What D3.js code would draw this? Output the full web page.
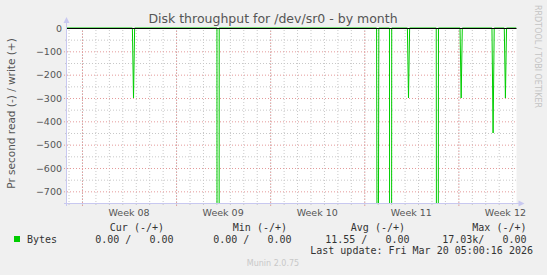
<!DOCTYPE html>
<html>
<head>
<meta charset="utf-8">
<script src="https://cdn.jsdelivr.net/npm/d3@7"></script>
<style>
  body { margin: 0; background: #f0f0f0; }
  svg { display: block; }
  text { font-family: "DejaVu Sans", sans-serif; }
  .mono { font-family: "DejaVu Sans Mono", monospace; white-space: pre; }
</style>
</head>
<body>
<div id="chart"></div>
<script>
// read spikes (bytes/s, negative = read), one entry per 2h sample
const spikeTimes = [
  '2026-02-19T20:00Z', '2026-02-26T03:00Z', '2026-03-10T00:00Z',
  '2026-03-10T23:00Z', '2026-03-12T07:00Z', '2026-03-14T10:30Z',
  '2026-03-16T05:00Z', '2026-03-18T14:00Z', '2026-03-19T12:00Z'
];
const spikeReads = [-300, -17030, -2400, -9000, -300, -5200, -300, -450, -300];

const yTicks = [0, -100, -200, -300, -400, -500, -600, -700];
const weekStarts = ['2026-02-16', '2026-02-23', '2026-03-02', '2026-03-09', '2026-03-16'];
const weekLabels = ['Week 08', 'Week 09', 'Week 10', 'Week 11', 'Week 12'];
const timeRange = ['2026-02-14T21:15Z', '2026-03-20T07:48Z'];

const legendHead = ['Cur (-/+)', 'Min (-/+)', 'Avg (-/+)', 'Max (-/+)'];
const legendVals = ['0.00 /   0.00', '0.00 /   0.00', '11.55 /   0.00', '17.03k/   0.00'];

const width = 547, height = 275;
const plotLeft = 67, plotRight = 516.5, plotTop = 28, plotBottom = 203;

const svg = d3.select('#chart').append('svg')
    .attr('width', width)
    .attr('height', height);

svg.append('rect').attr('width', width).attr('height', height).attr('fill', '#f0f0f0');

const xScale = d3.scaleUtc()
    .domain(timeRange.map(d => new Date(d)))
    .range([plotLeft, plotRight]);

const yScale = d3.scaleLinear()
    .domain([-750, 0])
    .range([plotBottom, plotTop]);

/* plot canvas */
svg.append('rect')
    .attr('x', plotLeft).attr('y', plotTop)
    .attr('width', plotRight - plotLeft).attr('height', plotBottom - plotTop)
    .attr('fill', '#ffffff');

/* minor gridlines: days and 50s */
const days = d3.utcDay.range(xScale.domain()[0], xScale.domain()[1]);
svg.append('g')
    .attr('transform', `translate(0,${plotBottom})`)
    .call(d3.axisBottom(xScale).tickValues(days).tickSize(-(plotBottom - plotTop)).tickFormat(''))
    .call(g => g.select('.domain').remove())
    .call(g => g.selectAll('line').attr('stroke', '#c8c8c8').attr('stroke-dasharray', '1,2').attr('y1', 2));

svg.append('g')
    .attr('transform', `translate(${plotLeft},0)`)
    .call(d3.axisLeft(yScale).tickValues(d3.range(-50, -750, -100)).tickSize(-(plotRight - plotLeft)).tickFormat(''))
    .call(g => g.select('.domain').remove())
    .call(g => g.selectAll('line').attr('stroke', '#c8c8c8').attr('stroke-dasharray', '1,2').attr('x1', -2));

/* major gridlines: weeks and 100s */
svg.append('g')
    .attr('transform', `translate(0,${plotBottom})`)
    .call(d3.axisBottom(xScale).tickValues(weekStarts.map(d => new Date(d + 'T00:00Z'))).tickSize(-(plotBottom - plotTop)).tickFormat(''))
    .call(g => g.select('.domain').remove())
    .call(g => g.selectAll('line').attr('stroke', '#e59a9a').attr('stroke-dasharray', '1,2').attr('y1', 3));

svg.append('g')
    .attr('transform', `translate(${plotLeft},0)`)
    .call(d3.axisLeft(yScale).tickValues(yTicks.slice(1)).tickSize(-(plotRight - plotLeft)).tickFormat(''))
    .call(g => g.select('.domain').remove())
    .call(g => g.selectAll('line').attr('stroke', '#e59a9a').attr('stroke-dasharray', '1,2').attr('x1', -3));

/* y tick labels */
svg.append('g')
    .attr('transform', `translate(${plotLeft - 5},0)`)
    .call(d3.axisLeft(yScale).tickValues(yTicks).tickSize(0).tickPadding(0))
    .call(g => g.select('.domain').remove())
    .selectAll('text')
    .attr('fill', '#555')
    .style('font-size', '9.5px')
    .style('font-family', '"DejaVu Sans", sans-serif');

/* x labels centred in each week */
svg.append('g')
    .selectAll('text')
    .data(weekLabels)
    .join('text')
    .attr('x', (d, i) => xScale(d3.utcHour.offset(new Date(weekStarts[i] + 'T00:00Z'), 84)))
    .attr('y', 216)
    .attr('text-anchor', 'middle')
    .attr('fill', '#555')
    .style('font-size', '9.5px')
    .text(d => d);

/* data line */
const series = [{ t: xScale.domain()[0], v: 0 }];
spikeTimes.forEach((s, i) => {
    const t = new Date(s);
    series.push({ t: d3.utcHour.offset(t, -2), v: 0 });
    series.push({ t: t, v: spikeReads[i] });
    series.push({ t: d3.utcHour.offset(t, 2), v: 0 });
});
series.push({ t: xScale.domain()[1], v: 0 });

svg.append('clipPath').attr('id', 'clip')
    .append('rect').attr('x', plotLeft).attr('y', plotTop - 1).attr('width', plotRight - plotLeft).attr('height', plotBottom - plotTop + 1);

const line = d3.line()
    .x(d => xScale(d.t))
    .y(d => yScale(d.v));

svg.append('path')
    .datum(series)
    .attr('clip-path', 'url(#clip)')
    .attr('fill', 'none')
    .attr('stroke', '#00cc00')
    .attr('stroke-width', 1)
    .attr('d', line);

/* zero rule */
svg.append('line')
    .attr('x1', plotLeft).attr('x2', plotRight)
    .attr('y1', yScale(0) + 0.5).attr('y2', yScale(0) + 0.5)
    .attr('stroke', '#000').attr('stroke-width', 1);

/* axes with arrows */
const axisColor = '#c8c8f0';
svg.append('line')
    .attr('x1', plotLeft - 0.5).attr('x2', plotLeft - 0.5)
    .attr('y1', plotBottom + 3).attr('y2', plotTop - 6)
    .attr('stroke', axisColor);
svg.append('path')
    .attr('d', `M${plotLeft - 3.5},${plotTop - 5}L${plotLeft - 0.5},${plotTop - 11}L${plotLeft + 2.5},${plotTop - 5}Z`)
    .attr('fill', axisColor);
svg.append('line')
    .attr('x1', plotLeft - 3).attr('x2', plotRight + 3)
    .attr('y1', plotBottom + 0.5).attr('y2', plotBottom + 0.5)
    .attr('stroke', axisColor);
svg.append('path')
    .attr('d', `M${plotRight + 2},${plotBottom - 2.5}L${plotRight + 8},${plotBottom + 0.5}L${plotRight + 2},${plotBottom + 3.5}Z`)
    .attr('fill', axisColor);

/* title */
svg.append('text')
    .text('Disk throughput for /dev/sr0 - by month')
    .attr('x', 273)
    .attr('y', 23)
    .attr('text-anchor', 'middle')
    .attr('fill', '#555')
    .style('font-size', '12.5px');

/* y label */
svg.append('text')
    .text('Pr second read (-) / write (+)')
    .attr('transform', 'translate(14.5,113.5) rotate(-90)')
    .attr('text-anchor', 'middle')
    .attr('fill', '#555')
    .style('font-size', '10.5px');

/* side credit */
svg.append('text')
    .text('RRDTOOL / TOBI OETIKER')
    .attr('transform', 'translate(534.5,5) rotate(90)')
    .attr('fill', '#c4c4c4')
    .style('font-size', '8px');

/* legend */
svg.append('rect')
    .attr('x', 14).attr('y', 236)
    .attr('width', 6).attr('height', 6)
    .attr('fill', '#00cc00');

svg.append('text').attr('class', 'mono')
    .attr('x', 27).attr('y', 243)
    .attr('fill', '#333').style('font-size', '10px')
    .text('Bytes');

const headEnds = [164, 287, 405, 526.5];
const valEnds = [173.5, 291.5, 409.5, 526.5];

svg.append('g').selectAll('text')
    .data(legendHead).join('text')
    .attr('class', 'mono')
    .attr('x', (d, i) => headEnds[i]).attr('y', 231)
    .attr('text-anchor', 'end')
    .attr('fill', '#333').style('font-size', '10px')
    .text(d => d);

svg.append('g').selectAll('text')
    .data(legendVals).join('text')
    .attr('class', 'mono')
    .attr('x', (d, i) => valEnds[i]).attr('y', 243)
    .attr('text-anchor', 'end')
    .attr('fill', '#333').style('font-size', '10px')
    .text(d => d);

svg.append('text').attr('class', 'mono')
    .attr('x', 533).attr('y', 254)
    .attr('text-anchor', 'end')
    .attr('fill', '#333').style('font-size', '10px')
    .text('Last update: Fri Mar 20 05:00:16 2026');

svg.append('text')
    .text('Munin 2.0.75')
    .attr('x', 273)
    .attr('y', 266)
    .attr('text-anchor', 'middle')
    .attr('fill', '#c8c8c8')
    .style('font-size', '8px');
</script>
</body>
</html>
